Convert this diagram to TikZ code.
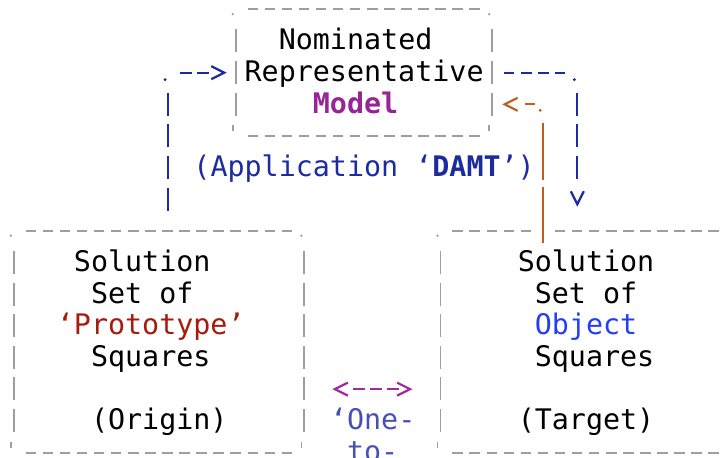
\documentclass[tikz,border=0pt]{standalone}
\usepackage{fontspec}
\setmonofont{DejaVu Sans Mono}
\usepackage{tikz}
\usetikzlibrary{arrows.meta}

\definecolor{framegray}{RGB}{158,158,158}
\definecolor{modelc}{RGB}{150,38,150}
\definecolor{flowblue}{RGB}{28,44,160}
\definecolor{brownc}{RGB}{192,94,30}
\definecolor{protored}{RGB}{165,28,12}
\definecolor{objblue}{RGB}{36,62,245}
\definecolor{tiec}{RGB}{158,42,158}
\definecolor{onec}{RGB}{72,80,182}

\tikzset{
  cell/.style={font=\fontsize{28.35pt}{31.65pt}\selectfont\ttfamily, inner sep=0pt, anchor=base west},
  frame/.style={inner sep=0pt, minimum width=#1*17.07pt},
  hrule/.style={framegray, line width=1.8pt, dash pattern=on 10.5pt off 6.57pt},
  vrule/.style={framegray, line width=1.8pt, dash pattern=on 23pt off 8.65pt},
  flow/.style={line width=2.2pt}
}

\begin{document}
\begin{tikzpicture}[x=17.07pt,y=-31.65pt,>={Straight Barb[length=13pt,width=13pt]}]

	\path[fill=white,use as bounding box] (-0.8202,-0.2954) rectangle (41.359,14.144);

	% boxes (one cell = one column, one line = one row)
	\node[frame=15, minimum height=126.6pt] (topbox) at (20.5,2) {};
	\node[frame=17, minimum height=221.55pt] (leftbox) at (8.5,10.5) {};
	\node[frame=17, minimum height=221.55pt] (rightbox) at (33.5,10.5) {};

	\foreach \b in {topbox,leftbox,rightbox}{
		\draw[hrule] ([xshift=11.82pt]\b.north west) -- ([xshift=-11.82pt]\b.north east);
		\draw[hrule] ([xshift=11.82pt]\b.south west) -- ([xshift=-11.82pt]\b.south east);
		\draw[vrule] ([yshift=-20.15pt]\b.north west) -- ([yshift=20.15pt]\b.south west);
		\draw[vrule] ([yshift=-20.15pt]\b.north east) -- ([yshift=20.15pt]\b.south east);
		\fill[framegray] ([shift={(-3pt,-5pt)}]\b.north west) circle (1.3pt);
		\fill[framegray] ([shift={(-3pt,-5pt)}]\b.north east) circle (1.3pt);
		\draw[framegray,line width=1.6pt] ([shift={(-3pt,5pt)}]\b.south west) -- ++(0,6pt);
		\draw[framegray,line width=1.6pt] ([shift={(-3pt,5pt)}]\b.south east) -- ++(0,6pt);
	}

	\coordinate (lbend) at (9,2);
	\coordinate (lfoot) at (9,6.364);
	\coordinate (rbend) at (33,2);
	\coordinate (bbend) at (31,3);
	\coordinate (bfoot) at (31,7.38);
	\coordinate (tie) at (21,12);

	% blue: origin -> model
	\draw[flowblue,flow,dash pattern=on 23pt off 8.65pt] (lfoot) -- ([yshift=-20.15pt]lbend);
	\fill[flowblue] ([shift={(-2.5pt,-7pt)}]lbend) circle (1.6pt);
	\draw[flowblue,flow,->,shorten >=9pt,dash pattern=on 11.7pt off 5.4pt on 11.7pt off 40pt] ([xshift=12.4pt]lbend) -- (topbox.west);

	% blue: model -> target
	\draw[flowblue,flow,dash pattern=on 10.5pt off 6.57pt] ([xshift=11.82pt]topbox.east) -- ([xshift=-11.82pt]rbend);
	\fill[flowblue] ([shift={(-3pt,-7pt)}]rbend) circle (1.6pt);
	\draw[flowblue,flow,->,shorten >=24pt,dash pattern=on 23pt off 8.65pt on 23pt off 8.65pt on 23pt off 80pt] ([yshift=-20.15pt]rbend) -- (rbend |- rightbox.north);

	% brown: target -> model
	\draw[brownc,flow,dash pattern=on 56pt off 7pt on 80pt,preaction={draw=white,line width=11pt,solid}] (bfoot) -- ([yshift=-19pt]bbend);
	\fill[brownc] ([shift={(-3pt,-6pt)}]bbend) circle (1.6pt);
	\draw[brownc,flow,->,shorten >=10pt,dash pattern=on 10pt off 40pt] ([xshift=-8.2pt]bbend) -- (topbox.east |- bbend);

	% purple: origin <-> target
	\draw[tiec,flow,<->,shorten <=28pt,shorten >=28pt,dash pattern=on 0pt off 17pt on 12pt off 5pt on 12pt off 5pt on 12pt off 60pt] (leftbox.east |- tie) -- (rightbox.west |- tie);

	% texts
	\node[cell] (nominated) at (15.5,1.284) {Nominated};
	\node[cell] (representative) at (13.5,2.284) {Representative};
	\node[cell,text=modelc] (model) at (17.5,3.284) {\bfseries Model};
	\node[cell,text=flowblue] (application) at (10.5,5.284) {(Application ‘\textbf{DAMT}’)};

	\node[cell] (solutionL) at (3.5,8.284) {Solution};
	\node[cell] (setL) at (4.5,9.284) {Set of};
	\node[cell,text=protored] (prototype) at (2.5,10.284) {‘Prototype’};
	\node[cell] (squaresL) at (4.5,11.284) {Squares};
	\node[cell] (origin) at (4.5,13.284) {(Origin)};

	\node[cell] (solutionR) at (29.5,8.284) {Solution};
	\node[cell] (setR) at (30.5,9.284) {Set of};
	\node[cell,text=objblue] (object) at (30.5,10.284) {Object};
	\node[cell] (squaresR) at (30.5,11.284) {Squares};
	\node[cell] (target) at (29.5,13.284) {(Target)};

	\node[cell,text=onec] (onelabel) at (18.5,13.284) {‘One-};
	\node[cell,text=onec] (tolabel) at (19.5,14.284) {to-};

\end{tikzpicture}
\end{document}
